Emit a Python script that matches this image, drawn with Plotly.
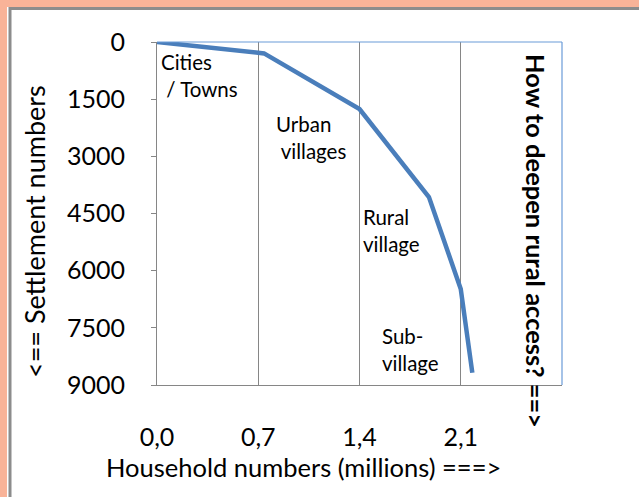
import plotly.graph_objects as go

# Data
households_m = [0.0, 0.74, 1.40, 1.88, 2.10, 2.18]
settlements = [0, 300, 1760, 4070, 6480, 8680]
x_ticks = [0.0, 0.7, 1.4, 2.1]
x_tick_labels = ["0,0", "0,7", "1,4", "2,1"]
y_ticks = [0, 1500, 3000, 4500, 6000, 7500, 9000]
zone_labels = ["Cities<br> / Towns", "Urban<br> villages", "Rural<br>village", "Sub-<br>village"]

W, H = 639, 497
ML, MR, MT, MB = 157, 77, 42, 112
PW, PH = W - ML - MR, H - MT - MB

def px(x):
    return (x - ML) / PW

def py(y):
    return (H - MB - y) / PH

FONT = "Lato, Carlito, Calibri, sans-serif"

fig = go.Figure()
fig.add_trace(go.Scatter(
    x=households_m, y=settlements, mode="lines",
    line=dict(color="#4A7EBB", width=4.5), hoverinfo="skip", showlegend=False,
))

# frame
fig.add_shape(type="rect", xref="paper", yref="paper",
              x0=px(7), x1=px(700), y0=py(7), y1=py(600),
              fillcolor="white", line=dict(width=0), layer="below")
fig.add_shape(type="rect", xref="paper", yref="paper",
              x0=px(10), x1=px(700), y0=py(8.5), y1=py(600),
              fillcolor="rgba(0,0,0,0)", line=dict(color="#8C8C8C", width=3), layer="below")
# blue top/right borders of plot area
fig.add_shape(type="line", xref="paper", yref="paper", x0=0, x1=1, y0=1, y1=1,
              line=dict(color="#6A9BD8", width=1.2))
fig.add_shape(type="line", xref="paper", yref="paper", x0=1, x1=1, y0=0, y1=1,
              line=dict(color="#6A9BD8", width=1.2))

ann_font = dict(family=FONT, size=20.5, color="black")
positions = [(159, 75, "left"), (274, 137, "left"), (361, 230, "left"), (380, 349, "left")]
for (xx, yy, al), t in zip(positions, zone_labels):
    fig.add_annotation(x=px(xx), y=py(yy), xref="paper", yref="paper", text=t,
                       showarrow=False, font=ann_font, align=al,
                       xanchor="left", yanchor="middle")

fig.add_annotation(x=px(536), y=py(241), xref="paper", yref="paper",
                   text="<b>How to deepen rural access? ==></b>", textangle=90,
                   showarrow=False, font=dict(family=FONT, size=25.5, color="black"),
                   xanchor="center", yanchor="middle")
fig.add_annotation(x=px(35), y=py(231), xref="paper", yref="paper",
                   text="<== Settlement numbers", textangle=-90,
                   showarrow=False, font=dict(family=FONT, size=27, color="black"),
                   xanchor="center", yanchor="middle")
fig.add_annotation(x=px(303), y=py(467), xref="paper", yref="paper",
                   text="Household numbers (millions) ===>",
                   showarrow=False, font=dict(family=FONT, size=25.5, color="black"),
                   xanchor="center", yanchor="middle")

fig.update_xaxes(range=[0, 2.8], tickvals=x_ticks, ticktext=x_tick_labels,
                 showgrid=True, gridcolor="#868686", gridwidth=1,
                 showline=True, linecolor="#868686", linewidth=1,
                 ticks="", zeroline=False, ticklabelstandoff=30,
                 tickfont=dict(family=FONT, size=25, color="black"))
fig.update_yaxes(range=[9000, 0], tickvals=y_ticks,
                 showgrid=False, showline=True, linecolor="#868686", linewidth=1,
                 ticks="outside", ticklen=5, tickcolor="#868686", zeroline=False,
                 ticklabelstandoff=21,
                 tickfont=dict(family=FONT, size=25, color="black"))

fig.update_layout(width=W, height=H, margin=dict(l=ML, r=MR, t=MT, b=MB),
                  paper_bgcolor="#F9B398", plot_bgcolor="white", showlegend=False)

fig.write_html("out.html", config={"displayModeBar": False},
               post_script="document.body.style.margin='0';document.body.style.padding='0';")
